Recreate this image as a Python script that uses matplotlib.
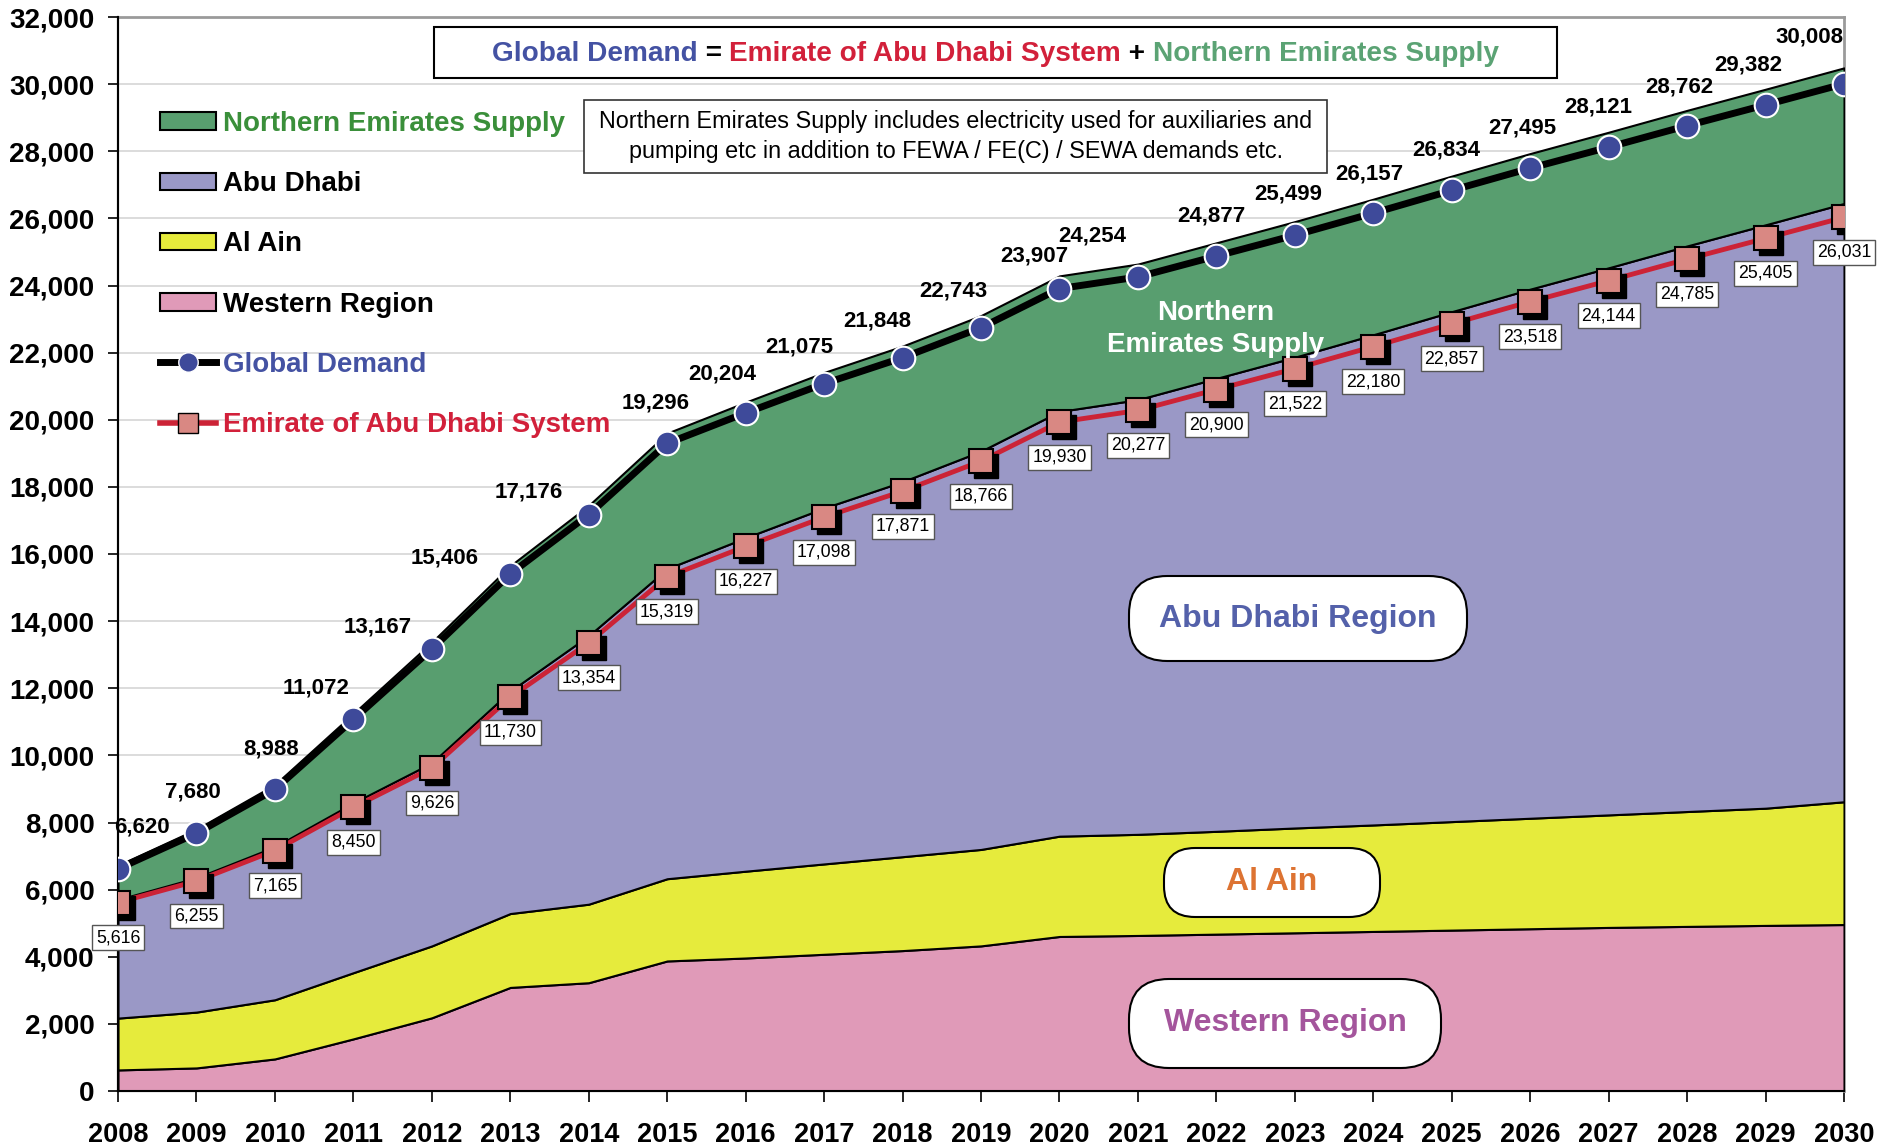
import numpy as np
import matplotlib
matplotlib.use("Agg")
import matplotlib.pyplot as plt
from matplotlib.patches import FancyBboxPatch, Rectangle, Patch
from matplotlib.lines import Line2D
from matplotlib.text import Annotation
from matplotlib.transforms import IdentityTransform, offset_copy

plt.rcParams['font.family'] = ['Liberation Sans', 'DejaVu Sans']

# data (MW)
years = list(range(2008, 2031))
global_demand = [6620, 7680, 8988, 11072, 13167, 15406, 17176, 19296, 20204, 21075, 21848, 22743,
                 23907, 24254, 24877, 25499, 26157, 26834, 27495, 28121, 28762, 29382, 30008]
ead_system = [5616, 6255, 7165, 8450, 9626, 11730, 13354, 15319, 16227, 17098, 17871, 18766,
              19930, 20277, 20900, 21522, 22180, 22857, 23518, 24144, 24785, 25405, 26031]
western = [618, 677, 941, 1529, 2147, 3038, 3176, 3814, 3901, 4010, 4118, 4256,
           4532, 4562, 4601, 4640, 4680, 4719, 4759, 4798, 4828, 4857, 4882]
al_ain = [1520, 1637, 1735, 1941, 2108, 2167, 2303, 2412, 2546, 2650, 2754, 2829,
          2942, 2966, 3015, 3074, 3123, 3182, 3241, 3300, 3369, 3438, 3601]

abu_dhabi = np.array(ead_system) - np.array(western) - np.array(al_ain)
northern = np.array(global_demand) - np.array(ead_system)

# label offsets for the global demand numbers (pixels)
gd_dx = [24, -4, -4, -37, -54, -66, -60, -12, -23, -25, -25, -28, -25, -46, -5, -7, -4, -5, -8, -10, -8, -17, -35]
gd_dy = [42, 41, 40, 31, 22, 16, 23, 40, 39, 37, 37, 37, 33, 41, 40, 41, 39, 40, 40, 40, 39, 40, 47]

c_green = '#589E6F'
c_purple = '#9A98C6'
c_yellow = '#E6EB3C'
c_pink = '#E09AB8'
c_blue = '#3E4A9A'
c_red = '#CC2336'
c_salmon = '#D98883'

W, H = 1892, 1148
fig = plt.figure(figsize=(W / 100, H / 100), dpi=100)
ax = fig.add_axes([118 / W, 1 - 1091 / H, (1844 - 118) / W, (1091 - 17) / H])

# base axis: ticks + grid
ax.set_xlim(2008, 2030)
ax.set_ylim(0, 32000)
ax.set_yticks(range(0, 32001, 2000))
ax.set_yticklabels([f"{v:,}" for v in range(0, 32001, 2000)], fontsize=20, fontweight='bold')
ax.set_xticks(years)
ax.set_xticklabels([str(y) for y in years], fontsize=19.5, fontweight='bold')
ax.tick_params(axis='y', direction='out', length=7, width=1.2, pad=10)
ax.tick_params(axis='x', direction='out', length=8, width=1.2, pad=14)
ax.yaxis.grid(True, color='#d6d6d6', lw=1.2)
ax.set_axisbelow(True)
for s in ['top', 'right']:
    ax.spines[s].set_color('#9a9a9a')
    ax.spines[s].set_linewidth(2)
for s in ['left', 'bottom']:
    ax.spines[s].set_linewidth(1.5)

# stacked areas on their own scale
ax2 = ax.twinx()
ax2.set_ylim(0, 31500)
ax2.stackplot(years, western, al_ain, abu_dhabi, northern,
              colors=[c_pink, c_yellow, c_purple, c_green], edgecolor='black', linewidth=1.5)
ax2.set_yticks([])
for s in ax2.spines.values():
    s.set_visible(False)

# lines on top
ax3 = ax.twinx()
ax3.set_ylim(0, 32000)
ax3.set_yticks([])
for s in ['top', 'right']:
    ax3.spines[s].set_visible(False)
for s in ['left', 'bottom']:
    ax3.spines[s].set_color('black')
    ax3.spines[s].set_linewidth(1.5)

ax3.plot(years, global_demand, color='black', lw=5, zorder=3, solid_capstyle='butt')
ax3.plot(years, global_demand, ls='none', marker='o', ms=17, mfc=c_blue, mec='white', mew=1.5, zorder=4)

ax3.plot(years, ead_system, color=c_red, lw=3.5, zorder=3)
shadow = offset_copy(ax3.transData, fig=fig, x=5, y=-5, units='dots')
ax3.plot(years, ead_system, ls='none', marker='s', ms=17, mfc='black', mec='black', transform=shadow, zorder=4)
ax3.plot(years, ead_system, ls='none', marker='s', ms=17, mfc=c_salmon, mec='black', mew=1.5, zorder=5)

for i, (x, v) in enumerate(zip(years, global_demand)):
    ax3.annotate(f"{v:,}", (x, v), xytext=(gd_dx[i], gd_dy[i]), textcoords='offset pixels',
                 ha='center', va='center', fontsize=16, fontweight='bold', zorder=6,
                 annotation_clip=False)

for x, v in zip(years, ead_system):
    ax3.annotate(f"{v:,}", (x, v), xytext=(0, -35), textcoords='offset pixels',
                 ha='center', va='center', fontsize=12.8, zorder=6, annotation_clip=False,
                 bbox=dict(boxstyle='square,pad=0.22', fc='white', ec='#555555', lw=1))

# legend
handles = [Patch(fc=c_green, ec='black', lw=1.5),
           Patch(fc=c_purple, ec='black', lw=1.5),
           Patch(fc=c_yellow, ec='black', lw=1.5),
           Patch(fc=c_pink, ec='black', lw=1.5),
           Line2D([], [], color='black', lw=5, marker='o', ms=14, mfc=c_blue, mec='white'),
           Line2D([], [], color=c_red, lw=4, marker='s', ms=14, mfc=c_salmon, mec='black')]
labels = ['Northern Emirates Supply', 'Abu Dhabi', 'Al Ain', 'Western Region',
          'Global Demand', 'Emirate of Abu Dhabi System']
leg_colors = ['#3A8F3A', 'black', 'black', 'black', '#4452A3', '#D2203A']
leg = fig.legend(handles, labels, loc='upper left', bbox_to_anchor=(160 / W, 1 - 111 / H),
                 frameon=False, prop={'weight': 'bold', 'size': 20}, handlelength=2.0,
                 handleheight=0.6, handletextpad=0.25, labelspacing=1.23, borderpad=0,
                 borderaxespad=0)
for t, c in zip(leg.get_texts(), leg_colors):
    t.set_color(c)

px = IdentityTransform()

# title equation box
fig.add_artist(Rectangle((434, H - 78), 1123, 51, transform=px, fc='white', ec='black', lw=1.5, zorder=2))
pieces = [("Global Demand", '#4452A3'), (" = ", 'black'), ("Emirate of Abu Dhabi System", '#D2203A'),
          (" + ", 'black'), ("Northern Emirates Supply", '#5BA374')]
prev = fig.text(492 / W, 1 - 54 / H, pieces[0][0], color=pieces[0][1], fontsize=20.2,
                fontweight='bold', ha='left', va='center', zorder=3)
for txt, col in pieces[1:]:
    a = Annotation(txt, xy=(1, 0.5), xycoords=prev, ha='left', va='center', color=col,
                   fontsize=20.2, fontweight='bold', zorder=3)
    fig.add_artist(a)
    prev = a

# note box
fig.add_artist(Rectangle((584, H - 173), 743, 73, transform=px, fc='white', ec='#333333', lw=1.2, zorder=2))
fig.text(955.5 / W, 1 - 136.5 / H,
         "Northern Emirates Supply includes electricity used for auxiliaries and\n"
         "pumping etc in addition to FEWA / FE(C) / SEWA demands etc.",
         ha='center', va='center', fontsize=16.8, linespacing=1.35, zorder=3)

# region labels
fig.text(1216 / W, 1 - 329 / H, "Northern\nEmirates Supply", color='white', fontsize=20,
         fontweight='bold', ha='center', va='center', linespacing=1.35, zorder=3)

region_boxes = [("Abu Dhabi Region", '#5461AA', (1129, 576, 1467, 661)),
                ("Al Ain", '#DD7332', (1164, 848, 1380, 917)),
                ("Western Region", '#A4559C', (1129, 979, 1441, 1068))]
for name, col, (x0, y0, x1, y1) in region_boxes:
    h = y1 - y0
    fig.add_artist(FancyBboxPatch((x0, H - y1), x1 - x0, h,
                                  boxstyle=f"round,pad=0,rounding_size={h * 0.45}",
                                  transform=px, fc='white', ec='black', lw=1.5, zorder=2))
    fig.text((x0 + x1) / 2 / W, 1 - (y0 + y1) / 2 / H, name, color=col, fontsize=23,
             fontweight='bold', ha='center', va='center', zorder=3)

fig.savefig("out.png", dpi=100)
